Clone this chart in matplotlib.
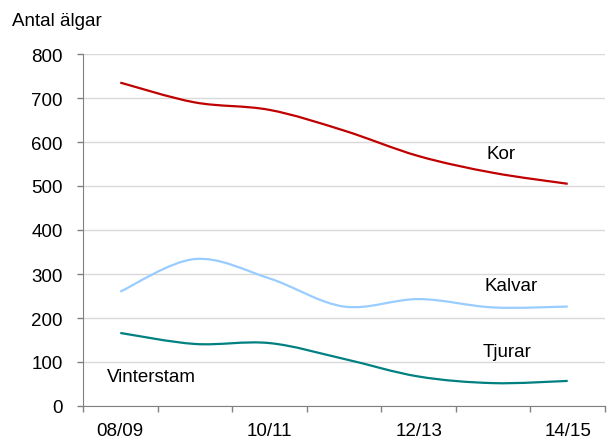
import numpy as np
import matplotlib
matplotlib.use("Agg")
import matplotlib.pyplot as plt
from matplotlib.path import Path
from matplotlib.patches import PathPatch

plt.rcParams['font.family'] = ['Liberation Sans', 'DejaVu Sans']

seasons = ["08/09", "09/10", "10/11", "11/12", "12/13", "13/14", "14/15"]
kor = [735, 690, 673, 626, 568, 530, 505]
kalvar = [260, 334, 290, 226, 243, 224, 226]
tjurar = [166, 141, 143, 107, 67, 52, 57]
label_seasons = ["08/09", "10/11", "12/13", "14/15"]

FS = 13.5

def smooth_path(xs, ys):
    pts = np.column_stack([xs, ys]).astype(float)
    n = len(pts)
    verts = [pts[0]]
    codes = [Path.MOVETO]
    for i in range(n - 1):
        p0 = pts[i - 1] if i > 0 else pts[i]
        p1 = pts[i]
        p2 = pts[i + 1]
        p3 = pts[i + 2] if i + 2 < n else pts[i + 1]
        c1 = p1 + (p2 - p0) / 6.0
        c2 = p2 - (p3 - p1) / 6.0
        verts += [c1, c2, p2]
        codes += [Path.CURVE4] * 3
    return Path(verts, codes)

fig = plt.figure(figsize=(6.07, 4.39), dpi=100)
ax = fig.add_axes([83/607, 32/439, (605-83)/607, (407-55)/439])

x = np.arange(len(seasons))
for vals, col in [(kor, '#c00000'), (kalvar, '#99ccff'), (tjurar, '#008080')]:
    ax.add_patch(PathPatch(smooth_path(x, vals), facecolor='none', edgecolor=col,
                           lw=1.6, capstyle='butt', zorder=3))

ax.set_xlim(-0.5, len(seasons) - 0.5)
ax.set_ylim(0, 800)
ax.set_yticks(np.arange(0, 801, 100))
ax.grid(axis='y', color='#d9d9d9', lw=1)
ax.set_axisbelow(True)

ax.set_xticks(np.arange(-0.5, len(seasons), 1))
ax.set_xticklabels([])
lab_pos = [seasons.index(s) for s in label_seasons]
ax.set_xticks(lab_pos, minor=True)
ax.set_xticklabels(label_seasons, minor=True)
ax.tick_params(axis='x', which='major', length=4, color='#808080', width=1)
ax.tick_params(axis='x', which='minor', length=0, pad=11.5, labelsize=FS)
ax.tick_params(axis='y', length=4, color='#808080', width=1, pad=10.5, labelsize=FS)

for s in ['top', 'right']:
    ax.spines[s].set_visible(False)
for s in ['left', 'bottom']:
    ax.spines[s].set_color('#808080')

ax.text(4.91, 573, "Kor", fontsize=FS, va='center', ha='left')
ax.text(4.88, 273, "Kalvar", fontsize=FS, va='center', ha='left')
ax.text(4.86, 123, "Tjurar", fontsize=FS, va='center', ha='left')
ax.text(-0.18, 66, "Vinterstam", fontsize=FS, va='center', ha='left')

fig.text(12/607, 1 - 26/439, "Antal älgar", fontsize=FS, va='baseline', ha='left')

fig.savefig("out.png", dpi=100)
